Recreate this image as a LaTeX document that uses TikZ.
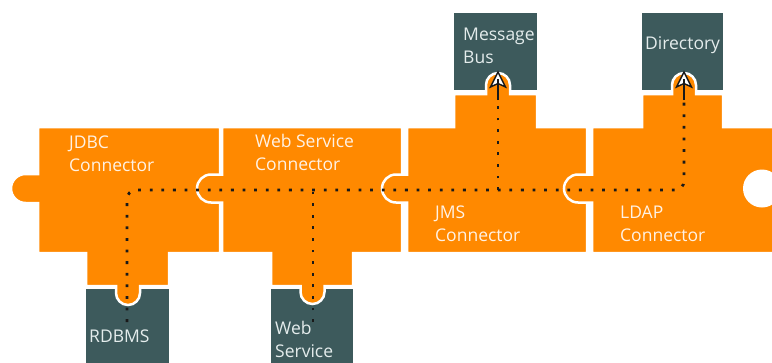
\documentclass[tikz,border=0pt]{standalone}
\usepackage{fontspec}
\setmainfont{Open Sans}
\definecolor{pieceorange}{RGB}{255,137,0}
\definecolor{slate}{RGB}{61,90,92}
\definecolor{lighttext}{RGB}{255,242,228}
\definecolor{boxtext}{RGB}{228,236,236}
\definecolor{dots}{RGB}{25,25,25}
\begin{document}
\begin{tikzpicture}[x=1pt,y=-1pt,
  piece/.style={fill=pieceorange, draw=white, line width=2.5pt},
  system/.style={fill=slate},
  ptext/.style={anchor=north west, inner sep=0pt, align=left, text=lighttext, font=\fontsize{17.5}{22.5}\selectfont},
  stext/.style={ptext, text=boxtext},
  flow/.style={draw=dots, line width=2.8pt, dash pattern=on 2.8pt off 8.8pt, rounded corners=9pt},
  headshape/.style={fill=white, draw=dots, line width=1.4pt, line join=miter},
  stem/.style={draw=dots, line width=2.4pt}
]
\useasboundingbox (0,0) rectangle (772,362);
\clip (0,0) rectangle (772,362);

% external systems
\fill[system] (454,13) rectangle (537,90);
\fill[system] (642,13) rectangle (723,90);
\fill[system] (86,289) rectangle (169,370);
\fill[system] (271,289) rectangle (353,370);

% JDBC connector
\path[piece] (38,127) -- (220,127) -- (220,253) -- (169,253) -- (169,286) -- (140,286) -- (140,293)
  arc[start angle=0,end angle=180,radius=12] -- (116,286) -- (86,286) -- (86,253) -- (38,253) -- (38,203) -- (25.5,203)
  arc[start angle=90,end angle=270,radius=14.5] -- (38,174) -- cycle;
% Web Service connector
\path[piece] (222,127) -- (402,127) -- (402,253) -- (353,253) -- (353,286) -- (324.5,286) -- (324.5,292)
  arc[start angle=0,end angle=180,radius=12] -- (300.5,286) -- (271,286) -- (271,253) -- (222,253) -- (222,202.5) -- (211,202.5)
  arc[start angle=90,end angle=270,radius=14] -- (222,174.5) -- cycle;
% JMS connector
\path[piece] (407,127) -- (454,127) -- (454,94) -- (486,94) -- (486,85)
  arc[start angle=180,end angle=360,radius=12] -- (510,94) -- (537,94) -- (537,127) -- (587,127) -- (587,253) -- (407,253) -- (407,202.5) -- (396,202.5)
  arc[start angle=90,end angle=270,radius=14] -- (407,174.5) -- cycle;
% LDAP connector
\path[piece] (592,127) -- (642,127) -- (642,94) -- (672,94) -- (672,85)
  arc[start angle=180,end angle=360,radius=12] -- (696,94) -- (723,94) -- (723,127) -- (790,127) -- (790,253) -- (592,253) -- (592,202.5) -- (578,202.5)
  arc[start angle=90,end angle=270,radius=14] -- (592,174.5) -- cycle;
% empty socket
\fill[white] (762,188.5) circle[radius=19];

% labels
\node[ptext] (jdbc) at (69,132.7) {\strut JDBC\\Connector};
\node[ptext] (wsc) at (255,131.7) {\strut Web Service\\Connector};
\node[ptext] (jms) at (435,202.7) {\strut JMS\\Connector};
\node[ptext] (ldap) at (620,202.7) {\strut LDAP\\Connector};
\node[stext] (msgbus) at (463,24.7) {\strut Message\\Bus};
\node[stext] (directory) at (645,33.7) {\strut Directory};
\node[stext] (rdbms) at (89,326.7) {\strut RDBMS};
\node[stext] (websvc) at (275,318.7) {\strut Web\\Service};

% flow
\coordinate (rdIn) at (127,322);
\coordinate (wsIn) at (313,322);
\coordinate (wsJoin) at (313,190);
\coordinate (jmsJoin) at (498,190);
\coordinate (trunkEnd) at (684,190);
\coordinate (mbTail) at (498,100);
\coordinate (dirTail) at (684,100);
\coordinate (mbStem) at (498,79);
\coordinate (dirStem) at (684,79);
\coordinate (mbOut) at (498,72);
\coordinate (dirOut) at (684,72);
\draw[flow] (rdIn) |- (trunkEnd) -- (dirTail);
\draw[flow] (wsIn) -- (wsJoin);
\draw[flow] (jmsJoin) -- (mbTail);
% arrowheads
\draw[headshape] (mbOut) -- ++(-7.5,15) -- ++(7.5,-3.5) -- ++(7.5,3.5) -- cycle;
\draw[headshape] (dirOut) -- ++(-7.5,15) -- ++(7.5,-3.5) -- ++(7.5,3.5) -- cycle;
\draw[stem] (mbTail) -- (mbStem);
\draw[stem] (dirTail) -- (dirStem);
\end{tikzpicture}
\end{document}
